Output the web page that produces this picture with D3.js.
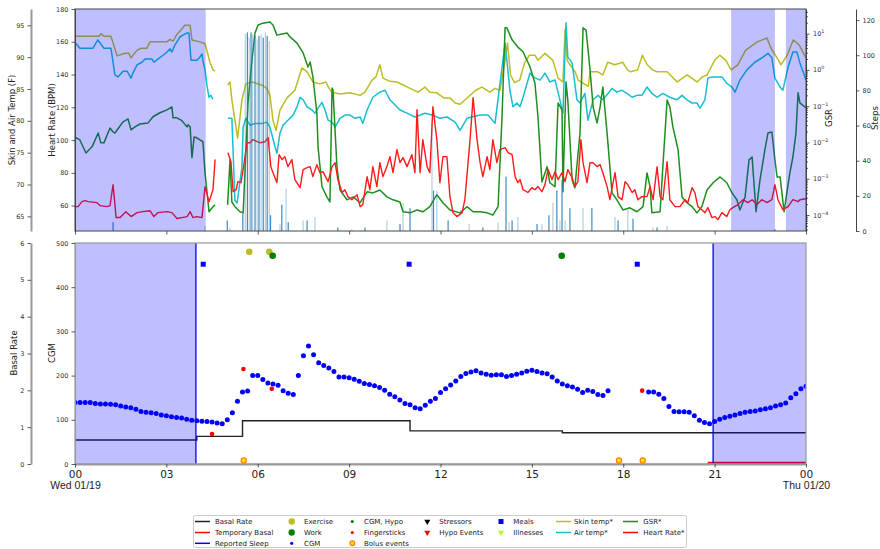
<!DOCTYPE html>
<html>
<head>
<meta charset="utf-8">
<script src="https://cdn.jsdelivr.net/npm/d3@7/dist/d3.min.js"></script>
<style>
body { margin: 0; background: #fff; }
svg { font-family: "DejaVu Sans", sans-serif; }
</style>
</head>
<body>
<svg id="chart" width="880" height="549"></svg>
<script>
// ---- data (hour of day, value) ----
var skinTemp = [[0,93.3],[0.8,93.3],[0.85,93.7],[0.95,93.3],[1.18,93.3],[1.38,90.2],[1.64,90.6],[1.77,90.6],[1.84,89.9],[2.04,91.1],[2.17,91.4],[2.36,91.4],[2.46,92.4],[3.02,92.4],[3.12,92.8],[3.22,92.5],[3.35,93.6],[3.45,94.1],[3.61,95.0],[3.78,95.0],[3.84,92.7],[4.1,92.4],[4.27,92.1],[4.43,89.2],[4.53,88.0],[4.6,87.8],
  [4.8,null],
  [5.01,85.6],[5.09,86.1],[5.15,83.3],[5.34,77.3],[5.48,83.3],[5.61,85.8],[5.81,86.1],[6.14,85.6],[6.30,85.1],[6.40,84.0],[6.50,80.1],[6.60,78.5],[6.73,81.7],[6.96,83.6],[7.22,84.8],[7.45,88.3],[7.62,87.7],[7.81,86.1],[8.04,85.8],[8.24,86.1],[8.34,85.1],[8.44,84.5],[8.70,84.2],[9.03,84.4],[9.36,84.0],[9.52,84.5],[9.75,86.4],[9.88,86.9],[10.01,88.8],[10.11,86.7],[10.34,86.2],[10.57,86.1],[11.0,85.1],[11.26,84.5],[11.49,85.3],[11.65,84.5],[11.88,84.4],[12.11,83.6],[12.31,83.6],[12.48,82.8],[12.64,82.6],[12.90,83.7],[13.16,84.8],[13.36,85.3],[13.62,84.5],[13.79,85.1],[13.95,84.8],[14.12,89.5],[14.2,92.2],[14.3,87.2],[14.43,86.0],[14.6,86.4],[14.76,89.1],[14.92,90.3],[15.1,90.3],[15.2,89.5],[15.43,90.6],[15.69,89.5],[15.86,86.7],[16.02,86.1],[16.09,94.3],[16.16,89.5],[16.25,88.8],[16.42,87.7],[16.52,86.4],[16.85,85.4],[16.91,87.7],[17.16,87.7],[17.33,87.2],[17.49,89.2],[17.72,88.8],[17.98,89.2],[18.14,88.0],[18.24,87.7],[18.47,88.0],[18.63,90.3],[18.79,88.8],[18.96,88.0],[19.11,87.7],[19.44,87.7],[19.77,86.1],[20.1,87.2],[20.42,86.1],[20.6,86.9],[20.75,87.2],[21.0,89.5],[21.17,90.3],[21.37,89.5],[21.54,88.0],[21.76,88.8],[22.02,91.1],[22.4,92.4],[22.72,93.0],[22.85,91.4],[23.05,89.9],[23.18,88.8],[23.38,90.3],[23.58,92.7],[23.78,91.9],[24.0,89.9]];

var airTemp = [[0,92.3],[0.16,91.4],[0.59,91.4],[0.75,92.7],[0.95,91.4],[1.18,91.4],[1.31,87.2],[1.41,86.9],[1.58,87.8],[1.71,87.8],[1.84,86.7],[1.90,87.5],[2.04,88.8],[2.20,89.2],[2.30,89.7],[2.53,89.7],[2.59,89.2],[2.72,89.7],[2.89,90.3],[3.02,90.8],[3.12,91.3],[3.18,90.8],[3.28,91.9],[3.45,93.2],[3.68,93.8],[3.74,93.8],[3.81,89.5],[3.87,89.5],[4.0,89.5],[4.10,90.0],[4.17,90.5],[4.2,89.5],[4.27,88.0],[4.33,85.6],[4.40,83.7],[4.46,84.0],[4.53,83.4],
  [4.8,null],
  [5.02,80.4],[5.15,80.4],[5.25,67.5],[5.32,67.1],[5.48,72.7],[5.52,79.0],[5.61,80.4],[5.75,79.3],[5.91,79.6],[6.14,79.6],[6.30,79.8],[6.40,79.0],[6.57,75.9],[6.63,74.9],[6.73,78.1],[6.83,79.3],[6.99,80.1],[7.16,80.9],[7.29,82.2],[7.39,83.7],[7.49,83.3],[7.62,82.2],[7.78,81.7],[7.88,81.2],[7.98,82.0],[8.11,82.9],[8.21,81.7],[8.31,80.1],[8.44,79.8],[8.54,79.0],[8.70,80.4],[8.86,80.9],[9.03,80.9],[9.19,80.4],[9.36,80.6],[9.45,79.6],[9.59,81.7],[9.78,83.7],[10.01,84.5],[10.18,84.8],[10.34,83.3],[10.67,81.7],[10.90,81.2],[11.16,80.6],[11.49,81.2],[11.72,80.9],[11.98,80.4],[12.21,80.6],[12.48,79.8],[12.64,78.5],[12.87,80.4],[13.30,80.9],[13.56,80.9],[13.79,79.6],[14.02,88.4],[14.12,92.2],[14.28,84.8],[14.38,82.2],[14.51,82.8],[14.61,82.2],[14.71,83.7],[14.94,87.5],[15.04,86.9],[15.27,86.4],[15.43,87.5],[15.59,86.1],[15.76,86.4],[15.92,83.3],[16.02,81.2],[16.12,95.4],[16.18,90.0],[16.32,89.1],[16.48,83.3],[16.58,82.8],[16.74,84.3],[16.84,80.1],[17.01,83.3],[17.17,84.0],[17.33,83.3],[17.50,84.3],[17.63,85.1],[17.79,84.5],[17.96,84.8],[18.12,84.3],[18.29,83.7],[18.45,84.0],[18.61,84.0],[18.78,85.3],[18.94,84.3],[19.11,83.7],[19.30,84.3],[19.53,83.7],[19.76,83.3],[19.93,84.0],[20.09,83.3],[20.26,82.8],[20.42,82.8],[20.52,82.0],[20.68,83.3],[20.78,86.7],[20.91,86.9],[21.24,86.9],[21.40,85.9],[21.57,85.3],[21.67,84.5],[21.83,86.4],[22.06,88.0],[22.32,89.2],[22.59,90.0],[22.75,90.6],[22.88,89.9],[22.98,86.7],[23.15,85.3],[23.24,84.8],[23.41,88.4],[23.57,90.8],[23.70,90.8],[23.80,89.1],[24.0,86.4]];

// GSR stored as log10 of the reading
var gsrLog10 = [[0,-1.85],[0.16,-1.93],[0.36,-2.29],[0.56,-2.12],[0.76,-1.74],[0.85,-2.01],[0.95,-2.01],[1.15,-1.60],[1.25,-1.71],[1.31,-1.74],[1.58,-1.43],[1.74,-1.35],[1.84,-1.65],[1.97,-1.57],[2.13,-1.49],[2.40,-1.46],[2.56,-1.29],[2.79,-1.18],[3.02,-1.10],[3.18,-1.02],[3.22,-1.32],[3.35,-1.32],[3.51,-1.40],[3.68,-1.57],[3.71,-1.51],[3.78,-1.57],[3.84,-2.42],[3.91,-1.85],[4.0,-1.87],[4.10,-1.93],[4.20,-1.98],[4.27,-2.84],[4.40,-3.91],[4.53,-3.77],[4.60,-3.72],
  [4.8,null],
  [5.01,-3.72],[5.09,-2.48],[5.15,-3.64],[5.25,-3.77],[5.42,-3.91],[5.52,-3.94],[5.68,-0.91],[5.81,0.28],[5.91,1.02],[6.01,1.24],[6.17,1.29],[6.40,1.32],[6.50,1.24],[6.63,0.96],[6.80,0.99],[6.96,1.02],[7.06,0.91],[7.29,0.74],[7.49,0.47],[7.65,0.08],[7.72,0.22],[7.81,-0.19],[7.94,-1.18],[7.98,-2.12],[8.11,-3.22],[8.27,-3.50],[8.37,-3.64],[8.44,-0.50],[8.47,-0.55],[8.60,-2.67],[8.70,-3.31],[8.93,-3.58],[9.13,-3.50],[9.36,-3.66],[9.59,-3.36],[9.78,-3.39],[10.01,-3.31],[10.24,-3.50],[10.44,-3.58],[10.67,-3.64],[10.77,-3.91],[11.0,-3.94],[11.23,-3.86],[11.42,-3.91],[11.65,-3.77],[11.88,-3.44],[12.08,-3.66],[12.31,-3.86],[12.64,-3.94],[12.87,-3.77],[13.07,-3.91],[13.30,-3.91],[13.53,-3.94],[13.72,-4.0],[13.89,-3.77],[14.02,-1.29],[14.12,1.16],[14.18,1.16],[14.35,0.83],[14.54,0.63],[14.71,0.50],[14.94,0.08],[15.10,-0.36],[15.20,-1.29],[15.33,-3.09],[15.50,-2.67],[15.59,-3.11],[15.76,-3.22],[15.86,-0.91],[15.99,-1.10],[16.02,-3.36],[16.12,-0.33],[16.18,-0.83],[16.32,-3.03],[16.41,-3.25],[16.58,-1.74],[16.68,1.16],[16.78,1.10],[16.91,0.0],[17.01,-1.02],[17.14,-1.46],[17.24,-1.02],[17.33,-0.47],[17.47,-1.74],[17.63,-3.39],[17.79,-3.58],[17.99,-3.86],[18.22,-3.80],[18.45,-3.91],[18.65,-3.77],[18.78,-2.84],[18.88,-3.22],[18.94,-3.94],[19.21,-3.91],[19.30,-2.67],[19.44,-0.83],[19.53,-1.02],[19.63,-1.57],[19.80,-2.20],[19.93,-3.50],[20.09,-3.66],[20.26,-3.77],[20.42,-3.94],[20.58,-3.77],[20.75,-3.31],[20.95,-3.11],[21.18,-2.95],[21.40,-3.11],[21.57,-3.39],[21.73,-3.58],[21.83,-3.86],[22.0,-3.50],[22.13,-2.48],[22.23,-2.40],[22.36,-3.91],[22.49,-3.03],[22.65,-2.20],[22.75,-1.74],[22.88,-1.71],[22.98,-2.48],[23.05,-2.95],[23.15,-2.95],[23.28,-3.91],[23.37,-3.39],[23.47,-2.84],[23.57,-2.40],[23.67,-1.74],[23.74,-0.63],[23.80,-0.91],[24.0,-1.05]];

var heartRate = [[0,59.4],[0.10,59.4],[0.23,62.4],[0.33,63.0],[0.43,62.4],[0.72,61.8],[0.82,60.0],[1.05,59.4],[1.15,60.0],[1.25,72.8],[1.35,52.7],[1.48,52.7],[1.67,56.3],[1.84,53.3],[2.04,55.7],[2.23,56.3],[2.46,56.9],[2.59,53.3],[2.72,55.7],[3.02,56.3],[3.18,55.7],[3.35,52.1],[3.51,52.7],[3.68,53.3],[3.78,56.3],[3.87,52.7],[4.0,53.3],[4.17,52.7],[4.27,71.6],[4.40,62.4],[4.53,69.7],[4.60,88.1],
  [4.8,null],
  [5.02,92.3],[5.12,86.8],[5.19,68.5],[5.29,69.7],[5.35,74.6],[5.45,74.0],[5.52,82.0],[5.65,98.4],[5.75,98.4],[5.84,100.3],[5.98,99.0],[6.07,98.4],[6.24,99.0],[6.34,101.5],[6.43,83.8],[6.50,80.1],[6.63,74.0],[6.70,91.1],[6.80,88.1],[6.89,89.9],[6.99,83.8],[7.12,88.1],[7.22,75.9],[7.39,71.0],[7.49,82.0],[7.62,83.2],[7.72,83.8],[7.81,77.7],[7.94,85.0],[8.04,80.1],[8.14,80.7],[8.31,74.6],[8.44,83.8],[8.54,86.2],[8.63,75.9],[8.77,68.0],[8.86,69.7],[8.96,65.5],[9.09,63.6],[9.26,66.7],[9.36,59.4],[9.45,60.6],[9.59,77.7],[9.68,69.7],[9.78,83.8],[9.91,71.6],[10.01,86.2],[10.11,77.7],[10.24,83.8],[10.34,89.9],[10.44,80.1],[10.57,94.2],[10.67,86.2],[10.77,89.3],[10.90,83.8],[11.06,91.1],[11.16,80.1],[11.23,118.6],[11.33,80.1],[11.42,100.3],[11.56,83.8],[11.65,80.1],[11.75,120.4],[11.88,100.3],[11.98,74.0],[12.08,89.9],[12.21,89.9],[12.31,65.5],[12.41,55.7],[12.54,53.3],[12.71,55.7],[12.80,63.6],[12.97,100.3],[13.07,125.9],[13.20,100.3],[13.30,86.2],[13.39,77.7],[13.53,89.9],[13.62,82.0],[13.72,100.3],[13.85,86.2],[13.95,94.2],[14.12,95.4],[14.22,92.3],[14.35,91.1],[14.45,77.7],[14.54,74.0],[14.61,75.9],[14.71,69.7],[14.87,68.0],[15.00,71.0],[15.10,69.7],[15.20,71.6],[15.33,68.5],[15.43,72.8],[15.53,82.0],[15.66,75.9],[15.76,80.7],[15.86,75.9],[15.99,80.1],[16.09,74.6],[16.18,82.0],[16.32,77.1],[16.41,71.6],[16.51,74.6],[16.61,100.3],[16.68,86.2],[16.81,74.0],[16.91,86.2],[17.01,86.2],[17.14,83.8],[17.24,85.0],[17.33,80.1],[17.47,71.6],[17.56,63.6],[17.73,80.1],[17.83,65.5],[17.96,63.6],[18.06,74.6],[18.15,72.8],[18.29,68.0],[18.38,69.7],[18.48,63.6],[18.61,65.5],[18.78,65.5],[18.88,71.6],[18.98,63.6],[19.11,83.8],[19.21,65.5],[19.30,63.6],[19.44,86.8],[19.53,63.6],[19.70,59.4],[19.86,59.4],[20.03,63.6],[20.12,61.8],[20.26,71.0],[20.35,68.0],[20.45,59.4],[20.58,57.5],[20.68,55.7],[20.78,58.8],[20.91,52.7],[21.01,53.3],[21.11,51.5],[21.24,55.7],[21.40,53.3],[21.50,57.5],[21.60,58.8],[21.77,60.6],[21.93,63.6],[22.09,61.8],[22.23,63.6],[22.39,60.6],[22.55,63.6],[22.72,61.8],[22.88,63.6],[22.98,72.8],[23.08,63.6],[23.24,57.5],[23.41,59.4],[23.57,63.6],[23.74,62.4],[23.80,63.6],[24.0,64.2]];

var steps = [[1.25,5],[4.27,3],[5.0,6],[5.09,2],[5.51,10],[5.59,112],[5.66,113],[5.72,110],[5.78,113],[5.83,112],[5.91,111],[5.98,109],[6.04,111],[6.11,112],[6.18,110],[6.25,113],[6.31,111],[6.38,108],[6.42,9],[6.73,4],[6.79,15],[6.93,24],[7.0,5],[7.49,6],[7.62,6],[7.88,8],[8.63,2],[9.09,1],[9.52,2],[10.24,6],[10.67,4],[10.77,16],[11.0,13],[11.72,62],[11.77,23],[11.88,23],[12.25,6],[12.94,4],[13.39,2],[13.89,5],[14.15,31],[14.25,5],[14.35,6],[14.54,8],[15.17,4],[15.33,4],[15.56,9],[15.69,16],[15.82,23],[15.92,6],[15.99,29],[16.09,6],[16.25,13],[16.68,13],[16.97,13],[17.73,8],[17.83,6],[18.15,12],[18.32,7],[18.98,2],[19.11,2],[19.44,3],[22.98,1]];

// CGM readings every 10 minutes from midnight
var cgmValues = [139,139,139,139,137,136,136,135,134,131,129,127,124,119,117,116,114,111,109,107,
  105,104,101,99,98,97,96,95,93,91,100,116,142,163,165,200,200,191,183,181,
  178,166,160,157,200,245,267,247,229,223,217,209,197,197,195,192,187,182,180,177,
  173,167,158,152,145,137,134,127,125,133,142,148,162,170,179,188,198,205,208,211,
  206,203,201,202,202,198,200,203,206,210,212,209,206,204,197,188,181,177,174,169,
  162,167,164,157,155,166,null,null,null,null,null,null,null,163,163,158,148,130,119,118,
  118,117,109,99,94,91,96,101,105,108,111,114,117,119,120,123,125,127,131,134,
  138,150,159,170,176];

var basalTimes = [0, 4, 5.5, 11, 16, 24];
var basalRates = [0.65, 0.75, 1.175, 0.9, 0.85, 0.85];
var tempBasal = [[20.77, 0], [24, 0]];

var sleepTop = [[0, 4.29], [21.54, 22.98], [23.34, 24]];
var sleepReported = [[0, 3.97], [20.95, 24]];

var exercise = [[5.72, 480], [6.38, 480]];
var work = [[6.49, 471], [15.98, 471]];
var meals = [[4.21, 452], [10.97, 452], [18.46, 452]];
var fingersticks = [[4.5, 68], [5.53, 215], [6.46, 170], [18.62, 166]];
var bolus = [[5.54, 8], [17.86, 8], [18.64, 8]];

var hourTicks = [0, 3, 6, 9, 12, 15, 18, 21, 24];
var tempTicks = [65, 70, 75, 80, 85, 90, 95];
var hrTicks = [60, 80, 100, 120, 140, 160, 180];
var stepTicks = [0, 20, 40, 60, 80, 100, 120];
var cgmTicks = [0, 100, 200, 300, 400, 500];
var basalTicks = [0, 1, 2, 3, 4, 5, 6];
var gsrExponents = [-4, -3, -2, -1, 0, 1];

// ---- layout ----
var svg = d3.select("#chart");
var left = 75, right = 806;
var topY0 = 9, topY1 = 231, botY0 = 243, botY1 = 464;

var x = d3.scaleLinear().domain([0, 24]).range([left, right]);
var yTemp = d3.scaleLinear().domain([62.7, 97.56]).range([topY1, topY0]);
var yHR = d3.scaleLinear().domain([44.5, 180]).range([topY1, topY0]);
var yGSR = d3.scaleLog().domain([Math.pow(10, -4.44), Math.pow(10, 1.68)]).range([topY1, topY0]);
var ySteps = d3.scaleLinear().domain([0, 126.3]).range([topY1, topY0]);
var yCGM = d3.scaleLinear().domain([0, 500]).range([botY1, botY0]);
var yBasal = d3.scaleLinear().domain([0, 6]).range([botY1, botY0]);

svg.append("clipPath").attr("id", "clipTop").append("rect")
    .attr("x", left).attr("y", topY0).attr("width", right - left).attr("height", topY1 - topY0);
svg.append("clipPath").attr("id", "clipBot").append("rect")
    .attr("x", left).attr("y", botY0 - 6).attr("width", right - left).attr("height", botY1 - botY0 + 6);

function styleAxis(g, color, fs) {
    g.selectAll("path.domain").attr("stroke", color);
    g.selectAll(".tick line").attr("stroke", "#333").attr("stroke-width", 0.8);
    g.selectAll(".tick text").attr("fill", "#333").attr("font-size", fs)
        .attr("font-family", "DejaVu Sans, sans-serif");
}
var intFmt = d3.format("d");

// ---- top panel ----
var topPanel = svg.append("g").attr("clip-path", "url(#clipTop)");

function seriesLine(yScale, conv) {
    return d3.line()
        .defined(function(d) { return d[1] !== null; })
        .x(function(d) { return x(d[0]); })
        .y(function(d) { return yScale(conv ? conv(d[1]) : d[1]); });
}

topPanel.append("path").datum(skinTemp).attr("fill", "none").attr("stroke", "#bcbd22")
    .attr("stroke-width", 1.5).attr("stroke-linejoin", "round").attr("d", seriesLine(yTemp));
topPanel.append("path").datum(airTemp).attr("fill", "none").attr("stroke", "#17becf")
    .attr("stroke-width", 1.5).attr("stroke-linejoin", "round").attr("d", seriesLine(yTemp));
topPanel.append("path").datum(gsrLog10).attr("fill", "none").attr("stroke", "#1e8f1e")
    .attr("stroke-width", 1.5).attr("stroke-linejoin", "round")
    .attr("d", seriesLine(yGSR, function(v) { return Math.pow(10, v); }));
topPanel.append("path").datum(heartRate).attr("fill", "none").attr("stroke", "#ff1a1a")
    .attr("stroke-width", 1.4).attr("stroke-linejoin", "round").attr("d", seriesLine(yHR));

topPanel.selectAll("rect.step").data(steps).enter().append("rect")
    .attr("x", function(d) { return x(d[0]) - 0.6; })
    .attr("y", function(d) { return ySteps(d[1]); })
    .attr("width", 1.2)
    .attr("height", function(d) { return topY1 - ySteps(d[1]); })
    .attr("fill", "#1f77b4")
    .attr("opacity", function(d, i) { return i % 2 ? 0.35 : 0.85; });

topPanel.selectAll("rect.sleep").data(sleepTop).enter().append("rect")
    .attr("x", function(d) { return x(d[0]); })
    .attr("width", function(d) { return x(d[1]) - x(d[0]); })
    .attr("y", topY0).attr("height", topY1 - topY0)
    .attr("fill", "blue").attr("opacity", 0.25);

svg.append("rect").attr("x", left).attr("y", topY0).attr("width", right - left)
    .attr("height", topY1 - topY0).attr("fill", "none").attr("stroke", "#444").attr("stroke-width", 1);

// top axes
var gT = svg.append("g").attr("transform", "translate(31,0)")
    .call(d3.axisLeft(yTemp).tickValues(tempTicks).tickSize(3.5).tickSizeOuter(0).tickFormat(intFmt));
styleAxis(gT, "#999", 6.5);
gT.select("path.domain").attr("stroke-width", 2);

var gH = svg.append("g").attr("transform", "translate(" + left + ",0)")
    .call(d3.axisLeft(yHR).tickValues(hrTicks).tickSize(3.5).tickSizeOuter(0).tickFormat(intFmt));
styleAxis(gH, "#444", 6.5);

var gG = svg.append("g").attr("transform", "translate(" + right + ",0)")
    .call(d3.axisRight(yGSR).tickValues(gsrExponents.map(function(e) { return Math.pow(10, e); }))
        .tickSize(3.5).tickSizeOuter(0).tickFormat(""));
styleAxis(gG, "#444", 6.5);
var minorG = [];
for (var e = -5; e <= 1; e++) {
    for (var m = 2; m <= 9; m++) {
        var v = m * Math.pow(10, e);
        if (v > yGSR.domain()[0] && v < yGSR.domain()[1]) minorG.push(v);
    }
}
var gGm = svg.append("g").attr("transform", "translate(" + right + ",0)")
    .call(d3.axisRight(yGSR).tickValues(minorG).tickSize(2).tickSizeOuter(0).tickFormat(""));
styleAxis(gGm, "#444", 6.5);
gGm.select("path.domain").remove();
gsrExponents.forEach(function(ex) {
    var t = svg.append("text").attr("x", right + 7).attr("y", yGSR(Math.pow(10, ex)) + 2.5)
        .attr("font-size", 6.5).attr("fill", "#333");
    t.append("tspan").text("10");
    t.append("tspan").attr("dy", -3).attr("font-size", 4.8).text(ex < 0 ? "\u2212" + (-ex) : ex);
});

var gS = svg.append("g").attr("transform", "translate(856,0)")
    .call(d3.axisRight(ySteps).tickValues(stepTicks).tickSize(3.5).tickSizeOuter(0).tickFormat(intFmt));
styleAxis(gS, "#444", 6.5);

var gXt = svg.append("g").attr("transform", "translate(0," + topY1 + ")")
    .call(d3.axisBottom(x).tickValues(hourTicks).tickSize(3.5).tickSizeOuter(0).tickFormat(""));
styleAxis(gXt, "#444", 6.5);
gXt.select("path.domain").remove();

// ---- bottom panel ----
var botPanel = svg.append("g").attr("clip-path", "url(#clipBot)");

var basalPts = basalTimes.map(function(t, i) { return [t, basalRates[i]]; });
botPanel.append("path").datum(basalPts).attr("fill", "none").attr("stroke", "#222").attr("stroke-width", 1.4)
    .attr("d", d3.line().curve(d3.curveStepAfter)
        .x(function(d) { return x(d[0]); }).y(function(d) { return yBasal(d[1]); }));

botPanel.append("path").datum(tempBasal).attr("fill", "none").attr("stroke", "red").attr("stroke-width", 2.5)
    .attr("d", d3.line().x(function(d) { return x(d[0]); }).y(function(d) { return yBasal(d[1]) - 1; }));

var cgmPts = cgmValues.map(function(v, i) { return [i / 6, v]; }).filter(function(d) { return d[1] !== null; });
botPanel.selectAll("circle.cgm").data(cgmPts).enter().append("circle")
    .attr("cx", function(d) { return x(d[0]); }).attr("cy", function(d) { return yCGM(d[1]); })
    .attr("r", 2.5).attr("fill", "blue");

botPanel.selectAll("circle.ex").data(exercise).enter().append("circle")
    .attr("cx", function(d) { return x(d[0]); }).attr("cy", function(d) { return yCGM(d[1]); })
    .attr("r", 3.3).attr("fill", "#bcbd22");
botPanel.selectAll("circle.work").data(work).enter().append("circle")
    .attr("cx", function(d) { return x(d[0]); }).attr("cy", function(d) { return yCGM(d[1]); })
    .attr("r", 3.3).attr("fill", "green");
botPanel.selectAll("rect.meal").data(meals).enter().append("rect")
    .attr("x", function(d) { return x(d[0]) - 2.5; }).attr("y", function(d) { return yCGM(d[1]) - 2.5; })
    .attr("width", 5).attr("height", 5).attr("fill", "blue");
botPanel.selectAll("circle.fs").data(fingersticks).enter().append("circle")
    .attr("cx", function(d) { return x(d[0]); }).attr("cy", function(d) { return yCGM(d[1]); })
    .attr("r", 2.3).attr("fill", "red");
botPanel.selectAll("circle.bolus").data(bolus).enter().append("circle")
    .attr("cx", function(d) { return x(d[0]); }).attr("cy", function(d) { return yCGM(d[1]); })
    .attr("r", 2.6).attr("fill", "#ffe000").attr("stroke", "#ff7f0e").attr("stroke-width", 1.2);

botPanel.selectAll("rect.sleep").data(sleepReported).enter().append("rect")
    .attr("x", function(d) { return x(d[0]); })
    .attr("width", function(d) { return x(d[1]) - x(d[0]); })
    .attr("y", botY0).attr("height", botY1 - botY0)
    .attr("fill", "blue").attr("opacity", 0.25);

var sleepEdges = [];
sleepReported.forEach(function(p) { p.forEach(function(t) { if (t > 0 && t < 24) sleepEdges.push(t); }); });
svg.selectAll("line.sleepEdge").data(sleepEdges).enter().append("line")
    .attr("x1", function(d) { return x(d); }).attr("x2", function(d) { return x(d); })
    .attr("y1", botY0).attr("y2", botY1).attr("stroke", "blue").attr("stroke-width", 1.3);

svg.append("rect").attr("x", left).attr("y", botY0).attr("width", right - left)
    .attr("height", botY1 - botY0).attr("fill", "none").attr("stroke", "#999").attr("stroke-width", 1.2);

var gB = svg.append("g").attr("transform", "translate(31,0)")
    .call(d3.axisLeft(yBasal).tickValues(basalTicks).tickSize(3.5).tickSizeOuter(0).tickFormat(intFmt));
styleAxis(gB, "#999", 6.5);
gB.select("path.domain").attr("stroke-width", 2);

var gC = svg.append("g").attr("transform", "translate(" + left + ",0)")
    .call(d3.axisLeft(yCGM).tickValues(cgmTicks).tickSize(3.5).tickSizeOuter(0).tickFormat(intFmt));
styleAxis(gC, "#999", 6.5);

var gX = svg.append("g").attr("transform", "translate(0," + botY1 + ")")
    .call(d3.axisBottom(x).tickValues(hourTicks).tickSize(3.5).tickSizeOuter(0)
        .tickFormat(function(h) { return d3.format("02d")(h % 24); }));
styleAxis(gX, "#999", 10.5);
gX.select("path.domain").attr("stroke-width", 2);
gX.selectAll(".tick text").attr("fill", "#222");
var dayLabels = {0: "Wed 01/19", 24: "Thu 01/20"};
gX.selectAll(".tick").filter(function(h) { return dayLabels[h]; })
    .append("text").attr("y", 18).attr("dy", "0.71em").attr("fill", "#222")
    .attr("font-size", 10.5).attr("text-anchor", "middle")
    .text(function(h) { return dayLabels[h]; });

// ---- axis titles ----
function vLabel(txt, cx, cy) {
    svg.append("text").attr("transform", "translate(" + cx + "," + cy + ") rotate(-90)")
        .attr("text-anchor", "middle").attr("dominant-baseline", "central")
        .attr("font-size", 8.5).attr("fill", "#222").text(txt);
}
vLabel("Skin and Air Temp (F)", 12, 120);
vLabel("Heart Rate (BPM)", 52, 120);
vLabel("GSR", 829, 118);
vLabel("Steps", 875, 118);
vLabel("Basal Rate", 14, 353);
vLabel("CGM", 52, 353);

// ---- legend ----
var legend = svg.append("g");
legend.append("rect").attr("x", 193.5).attr("y", 515.5).attr("width", 493).attr("height", 32)
    .attr("rx", 2).attr("fill", "#fff").attr("stroke", "#ccc");
var rowY = [521.5, 532.5, 543.3];
var legendCols = [
    {hx: 195, tx: 215, items: [["line", "#222", "Basal Rate"], ["line", "red", "Temporary Basal"], ["line", "blue", "Reported Sleep"]]},
    {hx: 291.7, tx: 304, items: [["dot", "#bcbd22", "Exercise"], ["dot", "green", "Work"], ["small", "blue", "CGM"]]},
    {hx: 352.3, tx: 364, items: [["small", "green", "CGM, Hypo"], ["small", "red", "Fingersticks"], ["bolus", "#ff7f0e", "Bolus events"]]},
    {hx: 427.3, tx: 439.3, items: [["tri", "#000", "Stressors"], ["tri", "red", "Hypo Events"]]},
    {hx: 501, tx: 513.3, items: [["square", "blue", "Meals"], ["tri", "#adff2f", "Illnesses"]]},
    {hx: 556, tx: 574, items: [["line", "#bcbd22", "Skin temp*"], ["line", "#17becf", "Air temp*"]]},
    {hx: 623, tx: 643.3, items: [["line", "#1e8f1e", "GSR*"], ["line", "red", "Heart Rate*"]]}
];
legendCols.forEach(function(col) {
    col.items.forEach(function(it, i) {
        var y = rowY[i];
        if (it[0] === "line") {
            legend.append("line").attr("x1", col.hx).attr("x2", col.hx + 15).attr("y1", y).attr("y2", y)
                .attr("stroke", it[1]).attr("stroke-width", 1.5);
        } else if (it[0] === "dot") {
            legend.append("circle").attr("cx", col.hx).attr("cy", y).attr("r", 3.2).attr("fill", it[1]);
        } else if (it[0] === "small") {
            legend.append("circle").attr("cx", col.hx).attr("cy", y).attr("r", 1.6).attr("fill", it[1]);
        } else if (it[0] === "bolus") {
            legend.append("circle").attr("cx", col.hx).attr("cy", y).attr("r", 2.4)
                .attr("fill", "#ffe000").attr("stroke", it[1]).attr("stroke-width", 1.2);
        } else if (it[0] === "square") {
            legend.append("rect").attr("x", col.hx - 2.5).attr("y", y - 2.5).attr("width", 5).attr("height", 5)
                .attr("fill", it[1]);
        } else if (it[0] === "tri") {
            legend.append("path").attr("transform", "translate(" + col.hx + "," + y + ") rotate(180)")
                .attr("d", d3.symbol().type(d3.symbolTriangle).size(16)()).attr("fill", it[1]);
        }
        legend.append("text").attr("x", col.tx).attr("y", y + 2.5).attr("font-size", 7)
            .attr("fill", "#222").text(it[2]);
    });
});
</script>
</body>
</html>
